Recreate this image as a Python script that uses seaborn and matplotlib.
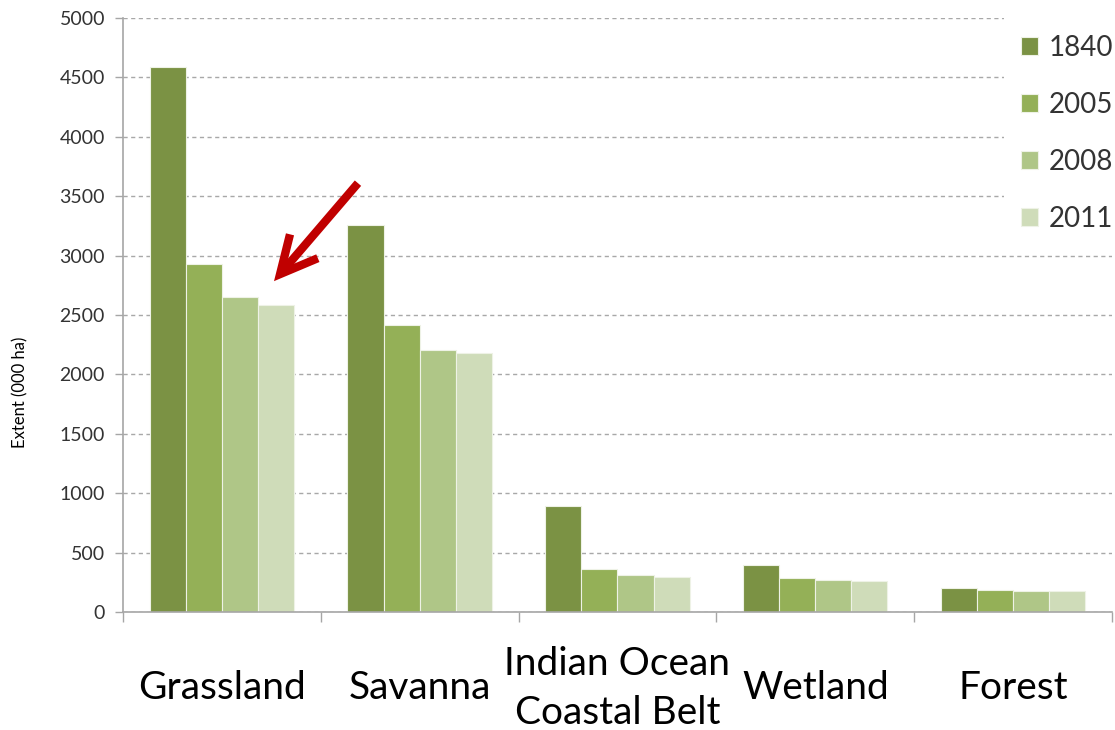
import numpy as np
import pandas as pd
import seaborn as sns
import matplotlib.pyplot as plt

# Habitat extent (thousand hectares) by year
habitats = ["Grassland", "Savanna", "Indian Ocean\nCoastal Belt", "Wetland", "Forest"]
years = ["1840", "2005", "2008", "2011"]
extent_1840 = [4585, 3260, 893, 395, 202]
extent_2005 = [2930, 2415, 364, 284, 185]
extent_2008 = [2650, 2205, 309, 267, 176]
extent_2011 = [2585, 2178, 292, 258, 176]
y_ticks = [0, 500, 1000, 1500, 2000, 2500, 3000, 3500, 4000, 4500, 5000]

series = dict(zip(years, [extent_1840, extent_2005, extent_2008, extent_2011]))
df = pd.DataFrame(
    [(h, yr, v) for yr, vals in series.items() for h, v in zip(habitats, vals)],
    columns=["habitat", "year", "extent"],
)

palette = {"1840": "#7b9244", "2005": "#94b057", "2008": "#afc687", "2011": "#cfdcb9"}

sns.set_theme(style="white")
plt.rcParams["font.family"] = ["Lato", "DejaVu Sans"]

fig = plt.figure(figsize=(11.15, 7.3), dpi=100)
ax = fig.add_axes([0.1103, 0.1616, 0.887, 0.8137])

sns.barplot(
    data=df, x="habitat", y="extent", hue="year",
    order=habitats, hue_order=years, palette=palette, saturation=1,
    width=0.73, edgecolor="#eef2e6", linewidth=0.8, ax=ax,
)

ax.set_xlim(-0.5, 4.5)
ax.set_ylim(0, 5000)
ax.set_yticks(y_ticks)
ax.set_yticklabels([str(t) for t in y_ticks])

# dashed horizontal gridlines
ax.yaxis.grid(True, linestyle=(0, (3, 2.5)), color="#a8a8a8", linewidth=1)
ax.xaxis.grid(False)
ax.set_axisbelow(True)

for side in ("top", "right"):
    ax.spines[side].set_visible(False)
for side in ("left", "bottom"):
    ax.spines[side].set_color("#a6a6a6")
    ax.spines[side].set_linewidth(1.2)

# tick marks at category boundaries, labels centred under groups
ax.set_xticks(np.arange(-0.5, 5.0, 1.0))
ax.set_xticklabels([])
ax.set_xticks(np.arange(len(habitats)), minor=True)
ax.set_xticklabels(habitats, minor=True, fontsize=28, va="center", linespacing=1.45, color="black")
ax.tick_params(axis="x", which="major", direction="out", length=7, width=1, color="#a6a6a6", bottom=True)
ax.tick_params(axis="x", which="minor", length=0, pad=55)
ax.tick_params(axis="y", direction="out", length=6, width=1, color="#a6a6a6", left=True,
               labelsize=14, labelcolor="#333333", pad=7)

ax.set_xlabel("")
ax.set_ylabel("Extent (000 ha)", fontsize=12, color="black")
ax.yaxis.set_label_coords(-0.096, 0.37)

# red pointer toward the Grassland 2011 bar
ax.annotate(
    "", xy=(0.1527, 0.557), xytext=(0.2376, 0.722),
    xycoords="axes fraction", textcoords="axes fraction",
    arrowprops=dict(arrowstyle="->,head_length=2.2,head_width=1.1",
                    color="#c00000", lw=6, shrinkA=0, shrinkB=0,
                    joinstyle="miter", capstyle="butt"),
)

handles, labels = ax.get_legend_handles_labels()
leg = ax.legend(
    handles, labels, loc="upper left", bbox_to_anchor=(0.891, 1.0),
    frameon=True, facecolor="white", edgecolor="none", framealpha=1, fancybox=False,
    fontsize=20, handlelength=0.6, handleheight=0.6, handletextpad=0.4,
    labelspacing=1.12, borderaxespad=0, borderpad=0.6,
)
for t in leg.get_texts():
    t.set_color("#333333")

fig.savefig("out.png", dpi=100)
